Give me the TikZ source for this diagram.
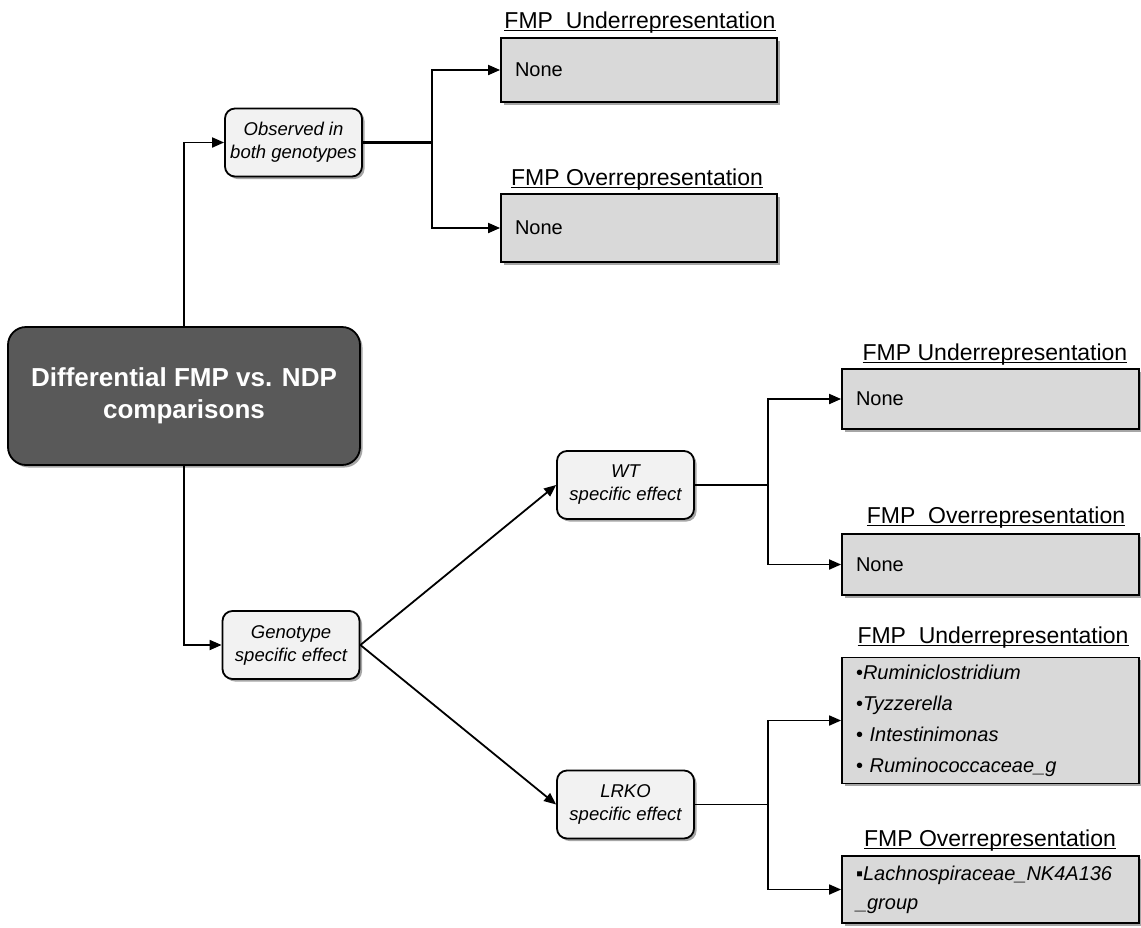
\documentclass[tikz,border=0pt]{standalone}
\usepackage{fontspec}
\setmainfont{Liberation Sans}
\usepackage{tikz}
\usetikzlibrary{arrows.meta,shadows}

\definecolor{darkbox}{HTML}{595959}
\definecolor{lightbox}{HTML}{F2F2F2}
\definecolor{graybox}{HTML}{D9D9D9}

\newcommand{\ultitle}[1]{\setbox0\hbox{#1}\rlap{\rule[-3pt]{\wd0}{1.5pt}}\box0}

\tikzset{
	shade/.style={drop shadow={shadow xshift=2.5pt,shadow yshift=-2.5pt,opacity=0.35,fill=black}},
	mainbox/.style={draw=black,line width=1.8pt,fill=darkbox,rounded corners=18pt,minimum width=352pt,minimum height=138pt,text=white,align=center,font=\bfseries\fontsize{26}{32}\selectfont,shade},
	effbox/.style={draw=black,line width=1.8pt,fill=lightbox,rounded corners=10pt,minimum width=137pt,minimum height=68pt,align=center,font=\itshape\fontsize{18.5}{23}\selectfont,shade},
	resbox/.style={draw=black,line width=1.8pt,fill=graybox,inner xsep=14pt,align=left,font=\fontsize{20}{31}\selectfont,shade},
	restitle/.style={anchor=base,inner sep=0pt,font=\fontsize{23}{27}\selectfont},
	con/.style={line width=1.8pt},
	arr/.style={con,-{Triangle[length=12pt,width=10pt]}}
}

\begin{document}
\begin{tikzpicture}[x=1pt,y=-1pt] % 1pt = 1px, y nach unten
				\useasboundingbox (0,0) rectangle (1141,927);
				\node[mainbox](M) at (184,396) {Differential FMP vs. NDP\\comparisons};
				\node[effbox](O) at (293.5,142.5) {Observed in\\both genotypes};\node[effbox](G) at (291,645) {Genotype\\specific effect};
				\node[effbox](W) at (625.5,485) {WT\\specific effect};\node[effbox](L) at (625.5,804.5) {LRKO\\specific effect};
				\node[resbox,text width=248pt,minimum height=64pt](R1) at (639,70) {None};
				\node[resbox,text width=248pt,minimum height=68pt](R2) at (639,228) {None};
				\node[resbox,text width=269pt,minimum height=60pt](R3) at (990.5,399) {None};
				\node[resbox,text width=269pt,minimum height=61pt](R4) at (990.5,564.5) {None};
				\node[resbox,text width=269pt,minimum height=126pt](R5) at (990.5,720.5) {•\textit{Ruminiclostridium}\\•\textit{Tyzzerella}\\• \textit{Intestinimonas}\\• \textit{Ruminococcaceae\_g}};
				\node[resbox,text width=269pt,minimum height=67pt,font=\fontsize{20}{29}\selectfont](R6) at (990.5,889.5) {▪\textit{Lachnospiraceae\_NK4A136}\\\textit{\_group}};
				\node[restitle](T1) at (640,28) {\ultitle{FMP\ \ Underrepresentation}};\node[restitle](T2) at (637,185) {\ultitle{FMP Overrepresentation}};
				\node[restitle](T3) at (995,360) {\ultitle{FMP Underrepresentation}};\node[restitle](T4) at (996,523) {\ultitle{FMP\ \ Overrepresentation}};
				\node[restitle](T5) at (993,643) {\ultitle{FMP\ \ Underrepresentation}};\node[restitle](T6) at (990,846) {\ultitle{FMP Overrepresentation}};
				\coordinate(J1) at (432,142.5);\coordinate(J2) at (768,485);\coordinate(J3) at (768,804.5);
				\draw[arr] (M.north) |- (O.west);\draw[arr] (M.south) |- (G.west);
				\draw[con,line width=2.6pt] (O.east) -- (J1);\draw[arr] (J1) |- (R1.west);\draw[arr] (J1) |- (R2.west);
				\draw[arr] (G.east) -- (W.west);\draw[arr] (G.east) -- (L.west);
				\draw[con] (W.east) -- (J2);\draw[arr] (J2) |- (R3.west);\draw[arr] (J2) |- (R4.west);
				\draw[con] (L.east) -- (J3);\draw[arr] (J3) |- (R5.west);\draw[arr] (J3) |- (R6.west);
			\end{tikzpicture}
\end{document}
